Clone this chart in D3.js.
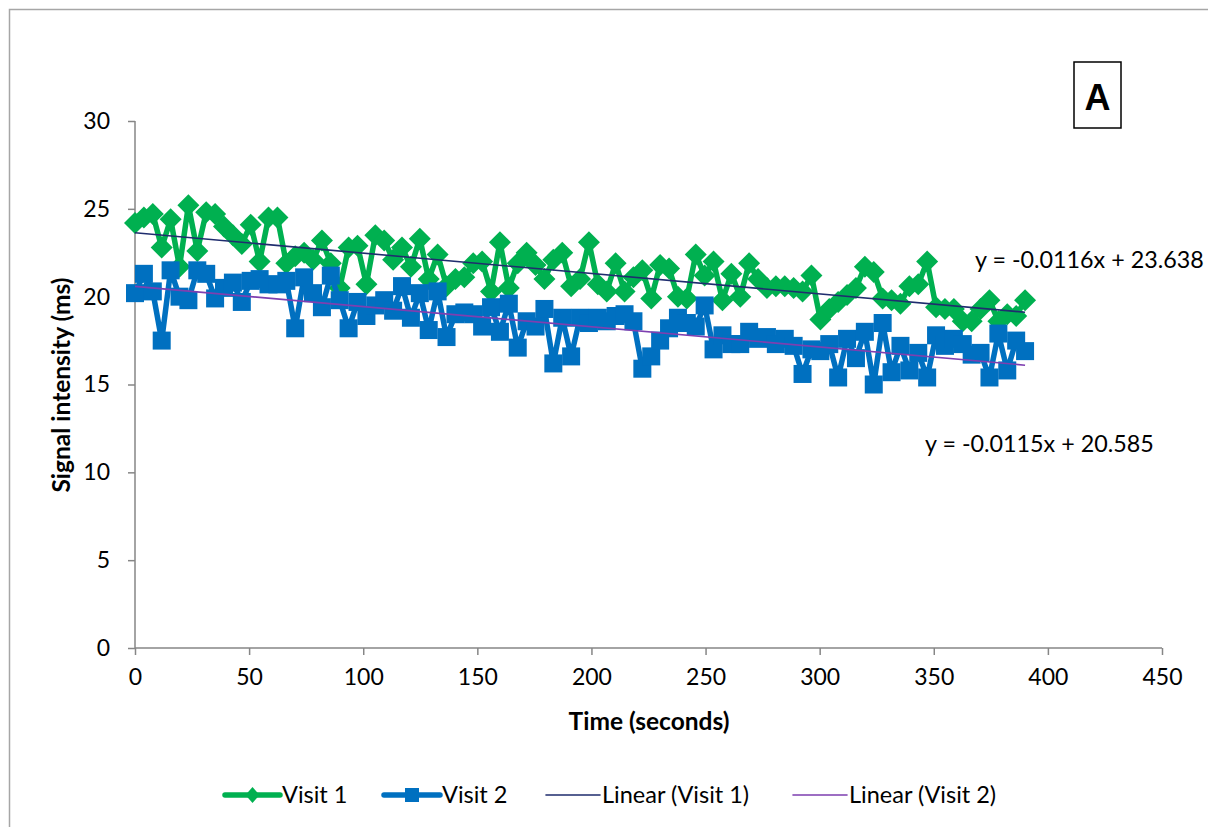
<!DOCTYPE html>
<html>
<head>
<meta charset="utf-8">
<script src="https://cdn.jsdelivr.net/npm/d3@7"></script>
<style>
  html, body { margin: 0; padding: 0; background: #fff; }
  svg { display: block; }
  text { font-family: Lato, "Open Sans", sans-serif; fill: #000; }
</style>
</head>
<body>
<svg id="chart" width="1208" height="827"></svg>
<script>
// Sample times (seconds)
const times = [0, 3.9, 7.8, 11.7, 15.6, 19.5, 23.4, 27.3, 31.2, 35.1, 39, 42.9, 46.8, 50.7, 54.6, 58.5,
  62.4, 66.3, 70.2, 74.1, 78, 81.9, 85.8, 89.7, 93.6, 97.5, 101.4, 105.3, 109.2, 113.1, 117, 120.9,
  124.8, 128.7, 132.6, 136.5, 140.4, 144.3, 148.2, 152.1, 156, 159.9, 163.8, 167.7, 171.6, 175.5,
  179.4, 183.3, 187.2, 191.1, 195, 198.9, 202.8, 206.7, 210.6, 214.5, 218.4, 222.3, 226.2, 230.1,
  234, 237.9, 241.8, 245.7, 249.6, 253.5, 257.4, 261.3, 265.2, 269.1, 273, 276.9, 280.8, 284.7,
  288.6, 292.5, 296.4, 300.3, 304.2, 308.1, 312, 315.9, 319.8, 323.7, 327.6, 331.5, 335.4, 339.3,
  343.2, 347.1, 351, 354.9, 358.8, 362.7, 366.6, 370.5, 374.4, 378.3, 382.2, 386.1, 390];

// Signal intensity (ms), Visit 1
const visit1 = [24.2, 24.5, 24.7, 22.8, 24.4, 21.7, 25.2, 22.6, 24.8, 24.7, 24.0, 23.5, 23.0, 24.1,
  22.0, 24.5, 24.5, 21.9, 22.3, 22.5, 22.1, 23.2, 21.9, 20.5, 22.8, 22.9, 20.7, 23.5, 23.2, 22.1,
  22.8, 21.7, 23.3, 21.0, 22.4, 20.6, 21.0, 21.1, 21.9, 22.0, 20.3, 23.1, 20.5, 21.9, 22.5, 21.8,
  21.0, 22.1, 22.5, 20.6, 21.0, 23.1, 20.7, 20.3, 21.9, 20.3, 21.1, 21.5, 19.9, 21.8, 21.6, 20.0,
  19.9, 22.4, 21.2, 22.0, 19.8, 21.3, 20.0, 21.9, 21.0, 20.5, 20.6, 20.6, 20.5, 20.3, 21.2, 18.7,
  19.3, 19.7, 20.1, 20.5, 21.7, 21.4, 19.9, 19.8, 19.6, 20.6, 20.7, 22.0, 19.4, 19.3, 19.3, 18.6,
  18.6, 19.3, 19.8, 18.6, 19.0, 18.9, 19.8];

// Signal intensity (ms), Visit 2
const visit2 = [20.2, 21.3, 20.3, 17.5, 21.5, 20.0, 19.8, 21.5, 21.3, 19.9, 20.5, 20.8, 19.7, 20.9,
  21.0, 20.7, 20.7, 20.9, 18.2, 21.1, 20.2, 19.4, 21.2, 19.8, 18.2, 19.7, 18.9, 19.5, 19.8, 19.2,
  20.6, 18.8, 20.2, 18.1, 20.3, 17.7, 19.0, 19.1, 19.0, 18.3, 19.4, 18.0, 19.6, 17.1, 18.6, 18.3,
  19.3, 16.2, 18.8, 16.6, 18.8, 18.5, 18.8, 18.6, 18.9, 19.0, 18.6, 15.9, 16.6, 17.5, 18.2, 18.8,
  18.5, 18.3, 19.5, 17.0, 17.8, 17.3, 17.3, 18.0, 17.6, 17.7, 17.3, 17.6, 17.2, 15.6, 17.0, 16.9,
  17.3, 15.4, 17.6, 16.5, 18.0, 15.0, 18.5, 15.7, 17.2, 15.8, 16.8, 15.4, 17.8, 17.2, 17.6, 17.3,
  16.7, 16.8, 15.4, 17.9, 15.8, 17.5, 16.9];

// Linear trend coefficients [slope, intercept]
const trend1 = [-0.0116, 23.638];
const trend2 = [-0.0115, 20.585];

const xTicks = [0, 50, 100, 150, 200, 250, 300, 350, 400, 450];
const yTicks = [0, 5, 10, 15, 20, 25, 30];

const green = "#00B050", blue = "#0070C0", navy = "#1F2D6E", purple = "#7E3FB0", axisGray = "#868686";

const svg = d3.select("#chart");

// outer chart frame
svg.append("rect").attr("x", 9.5).attr("y", 9.5).attr("width", 1300).attr("height", 900)
  .attr("fill", "none").attr("stroke", "#a6a6a6").attr("stroke-width", 1.5);

const x = d3.scaleLinear().domain([0, 450]).range([135, 1162]);
const y = d3.scaleLinear().domain([0, 30]).range([648, 121]);

// axes
const yAxis = svg.append("g").attr("transform", "translate(135,0)")
  .call(d3.axisLeft(y).tickValues(yTicks).tickSize(7).tickPadding(18).tickFormat(d3.format("d")));
const xAxis = svg.append("g").attr("transform", "translate(0,648)")
  .call(d3.axisBottom(x).tickValues(xTicks).tickSize(7).tickPadding(14).tickFormat(d3.format("d")));
[yAxis, xAxis].forEach(g => {
  g.selectAll("path, line").attr("stroke", axisGray).attr("stroke-width", 1.5);
  g.selectAll("text").style("font-family", "Lato, sans-serif").style("font-size", "23px").attr("fill", "#000");
});
xAxis.select(".domain").attr("d", "M135,0H1162");
yAxis.select(".domain").attr("d", "M0,121V648");

// axis titles
svg.append("text").attr("x", 649).attr("y", 730).attr("text-anchor", "middle")
  .style("font-size", "24.5px").style("font-weight", "bold").text("Time (seconds)");
svg.append("text").attr("transform", "translate(70,385) rotate(-90)").attr("text-anchor", "middle")
  .style("font-size", "24.5px").style("font-weight", "bold").text("Signal intensity (ms)");

const line = d3.line().x(d => x(d[0])).y(d => y(d[1]));
const pts1 = times.map((t, i) => [t, visit1[i]]);
const pts2 = times.map((t, i) => [t, visit2[i]]);

// Visit 1: green line with diamond markers
svg.append("path").datum(pts1).attr("d", line).attr("fill", "none")
  .attr("stroke", green).attr("stroke-width", 5.5).attr("stroke-linejoin", "round");
svg.append("g").selectAll("path").data(pts1).join("path")
  .attr("transform", d => `translate(${x(d[0])},${y(d[1])})`)
  .attr("d", "M0,-11L11,0L0,11L-11,0Z").attr("fill", green);

// Visit 2: blue line with square markers
svg.append("path").datum(pts2).attr("d", line).attr("fill", "none")
  .attr("stroke", blue).attr("stroke-width", 5.5).attr("stroke-linejoin", "round");
svg.append("g").selectAll("rect").data(pts2).join("rect")
  .attr("x", d => x(d[0]) - 9).attr("y", d => y(d[1]) - 9)
  .attr("width", 18).attr("height", 18).attr("fill", blue);

// linear trend lines over the data range
const tExt = d3.extent(times);
[[trend1, navy], [trend2, purple]].forEach(([c, col]) => {
  svg.append("path").datum(tExt.map(t => [t, c[0] * t + c[1]])).attr("d", line)
    .attr("fill", "none").attr("stroke", col).attr("stroke-width", 1.6);
});

// trend equations
svg.append("text").attr("x", 975).attr("y", 268).style("font-size", "23.3px")
  .text(`y = ${trend1[0]}x + ${trend1[1]}`);
svg.append("text").attr("x", 925).attr("y", 452).style("font-size", "23.3px")
  .text(`y = ${trend2[0]}x + ${trend2[1]}`);

// panel letter
svg.append("rect").attr("x", 1074).attr("y", 62).attr("width", 47).attr("height", 66)
  .attr("fill", "#fff").attr("stroke", "#000").attr("stroke-width", 1.5);
svg.append("text").attr("x", 1097.5).attr("y", 110).attr("text-anchor", "middle")
  .style("font-size", "36px").style("font-weight", "bold").style("font-family", "'Liberation Sans', Arial, sans-serif").text("A");

// legend
const legend = [
  { label: "Visit 1", color: green, x0: 225, x1: 280, w: 5.5, marker: "diamond" },
  { label: "Visit 2", color: blue, x0: 384, x1: 440, w: 5.5, marker: "square" },
  { label: "Linear (Visit 1)", color: navy, x0: 546, x1: 600, w: 1.6 },
  { label: "Linear (Visit 2)", color: purple, x0: 793, x1: 847, w: 1.6 }
];
const ly = 795;
const lg = svg.append("g");
legend.forEach(l => {
  lg.append("line").attr("x1", l.x0).attr("x2", l.x1).attr("y1", ly).attr("y2", ly)
    .attr("stroke", l.color).attr("stroke-width", l.w).attr("stroke-linecap", "round");
  const mx = (l.x0 + l.x1) / 2;
  if (l.marker === "diamond") {
    lg.append("path").attr("transform", `translate(${mx},${ly})`).attr("d", "M0,-8L7,0L0,8L-7,0Z").attr("fill", l.color);
  } else if (l.marker === "square") {
    lg.append("rect").attr("x", mx - 7).attr("y", ly - 7).attr("width", 14).attr("height", 14).attr("fill", l.color);
  }
  lg.append("text").attr("x", l.x1 + 2).attr("y", ly + 8).style("font-size", "23.5px").text(l.label);
});
</script>
</body>
</html>
